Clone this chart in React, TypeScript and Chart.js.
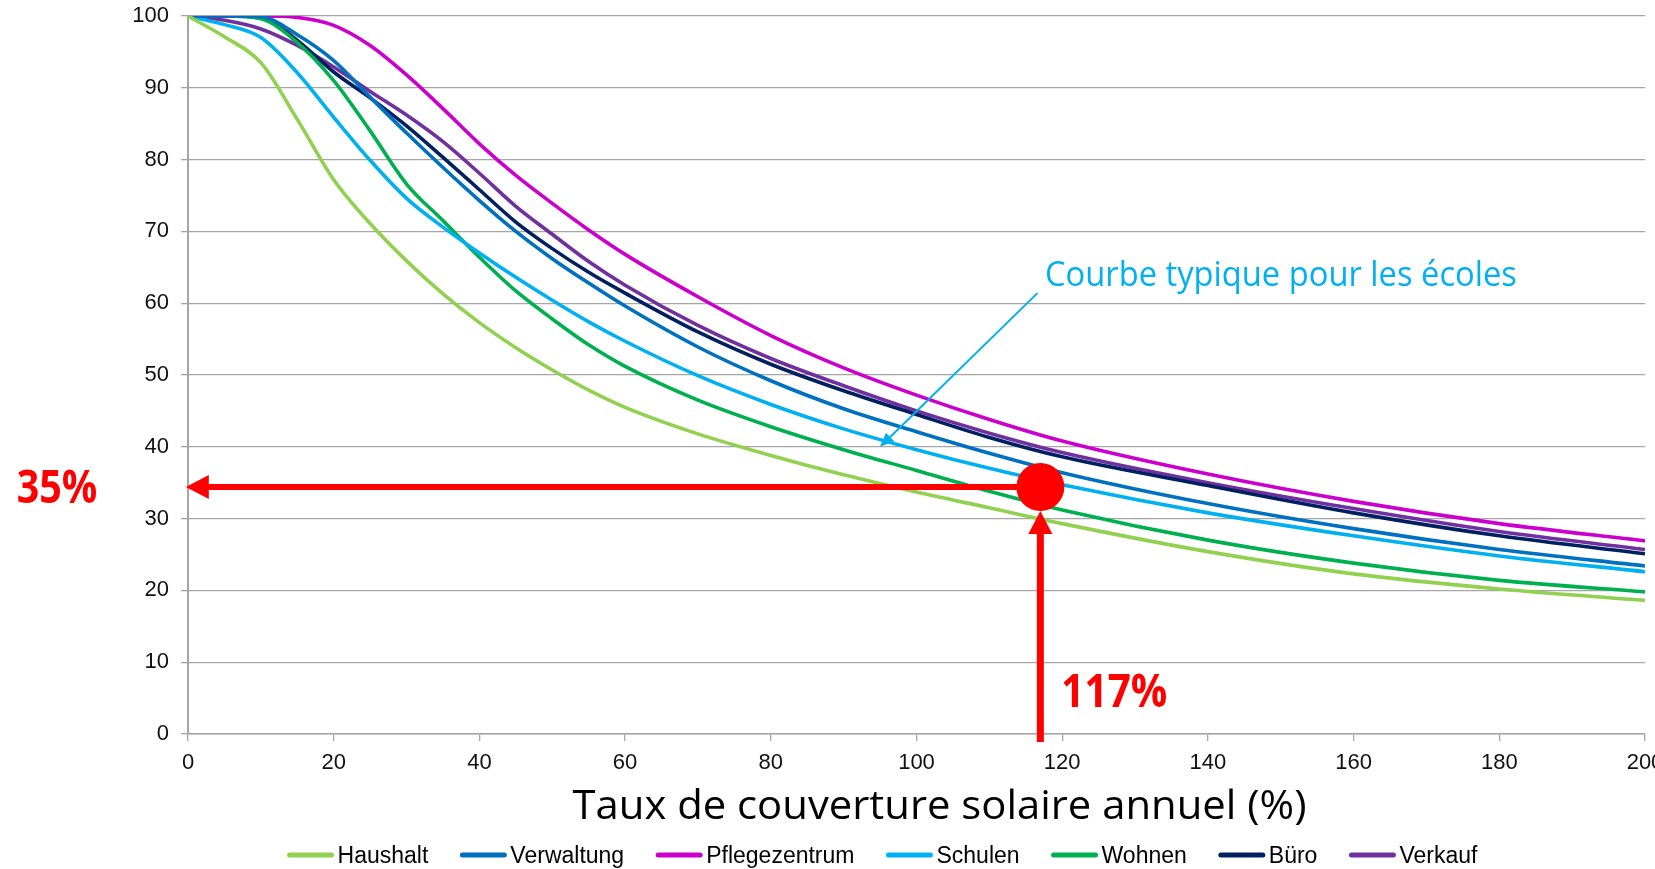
import { useEffect, useRef } from "react";
import { Chart, registerables } from "chart.js";

Chart.register(...registerables);

// ---- data ----
const coverage = [0, 5, 10, 15, 20, 25, 30, 35, 40, 45, 50, 55, 60, 70, 80, 90, 100, 110, 120, 140, 160, 180, 200];
const haushalt = [100, 97.1, 93.5, 85.6, 77.2, 71.1, 65.9, 61.3, 57.3, 53.8, 50.7, 47.9, 45.5, 41.8, 38.8, 36.1, 33.7, 31.5, 29.3, 25.4, 22.3, 20.2, 18.6];
const verwaltung = [100, 100, 99.9, 97.4, 93.8, 88.7, 83.7, 78.9, 74.3, 70.0, 66.2, 62.8, 59.6, 53.9, 49.2, 45.3, 42.1, 39.1, 36.4, 32.1, 28.6, 25.7, 23.4];
const pflegezentrum = [100, 100, 100, 99.8, 98.7, 95.9, 91.8, 87.1, 82.2, 77.8, 73.9, 70.2, 66.8, 60.9, 55.5, 51.0, 47.2, 43.8, 40.8, 36.2, 32.4, 29.3, 26.9];
const schulen = [100, 98.8, 97.0, 92.1, 85.9, 79.9, 74.6, 70.6, 67.0, 63.6, 60.4, 57.4, 54.7, 49.9, 45.9, 42.5, 39.6, 37.0, 34.7, 30.8, 27.6, 24.8, 22.6];
const wohnen = [100, 100, 99.6, 96.3, 91.0, 84.0, 76.6, 71.5, 66.4, 61.7, 57.8, 54.2, 51.2, 46.5, 42.8, 39.6, 36.7, 33.8, 31.2, 27.0, 23.8, 21.4, 19.8];
const buero = [100, 100, 99.9, 96.6, 92.2, 88.6, 84.7, 80.3, 75.8, 71.3, 67.6, 64.3, 61.4, 56.0, 51.5, 47.8, 44.5, 41.3, 38.6, 34.6, 30.8, 27.6, 25.1];
const verkauf = [100, 99.4, 98.2, 95.9, 92.9, 89.5, 86.2, 82.5, 78.1, 73.5, 69.6, 65.8, 62.5, 56.9, 52.3, 48.5, 45.0, 41.9, 39.2, 35.0, 31.4, 28.2, 25.7];

const seriesNames = ["Haushalt", "Verwaltung", "Pflegezentrum", "Schulen", "Wohnen", "Büro", "Verkauf"];
const seriesValues = [haushalt, verwaltung, pflegezentrum, schulen, wohnen, buero, verkauf];
const seriesColors = ["#92D050", "#0070C0", "#CC00CC", "#00B0F0", "#00B050", "#002060", "#7030A0"];

const xMin = 0;
const xMax = 200;
const xStep = 20;
const yMin = 0;
const yMax = 100;
const yStep = 10;
const xTitle = "Taux de couverture solaire annuel (%)";

// reading example
const markerX = 117;
const markerY = 34.4;
const markerLabelX = "117%";
const markerLabelY = "35%";
const arrowBottomY = -1.1;
const arrowLeftX = -0.3;

// callout
const calloutText = "Courbe typique pour les écoles";
const calloutFrom = [116.6, 61.4];
const calloutTo = [95.0, 40.0];

const W = 1655;
const H = 869;

function fitText(ctx: CanvasRenderingContext2D, text: string, x: number, y: number, font: string, targetW: number, align: "left" | "center") {
  ctx.save();
  ctx.font = font;
  const w = ctx.measureText(text).width;
  const s = targetW / w;
  ctx.textBaseline = "alphabetic";
  ctx.textAlign = "left";
  const left = align === "center" ? x - targetW / 2 : x;
  ctx.translate(left, y);
  ctx.scale(s, 1);
  ctx.fillText(text, 0, 0);
  ctx.restore();
}

const overlayPlugin = {
  id: "overlay",
  afterDatasetsDraw(chart: any) {
    const ctx: CanvasRenderingContext2D = chart.ctx;
    const xs = chart.scales.x;
    const ys = chart.scales.y;
    const red = "#FF0000";
    const cx = xs.getPixelForValue(markerX);
    const cy = ys.getPixelForValue(markerY);
    const r = 24;
    ctx.save();
    const tipX = xs.getPixelForValue(arrowLeftX);
    const headL = 23;
    const headHW = 12;
    ctx.strokeStyle = red;
    ctx.fillStyle = red;
    ctx.lineWidth = 6;
    ctx.beginPath();
    ctx.moveTo(cx, cy);
    ctx.lineTo(tipX + headL - 2, cy);
    ctx.stroke();
    ctx.beginPath();
    ctx.moveTo(tipX, cy);
    ctx.lineTo(tipX + headL, cy - headHW);
    ctx.lineTo(tipX + headL, cy + headHW);
    ctx.closePath();
    ctx.fill();
    const bottomY = ys.getPixelForValue(arrowBottomY);
    const tipY = cy + r;
    ctx.lineWidth = 7;
    ctx.beginPath();
    ctx.moveTo(cx, bottomY);
    ctx.lineTo(cx, tipY + headL - 2);
    ctx.stroke();
    ctx.beginPath();
    ctx.moveTo(cx, tipY);
    ctx.lineTo(cx - headHW, tipY + headL);
    ctx.lineTo(cx + headHW, tipY + headL);
    ctx.closePath();
    ctx.fill();
    ctx.beginPath();
    ctx.arc(cx, cy, r, 0, Math.PI * 2);
    ctx.fill();

    fitText(ctx, markerLabelY, 16.7, cy + 15.6, 'bold 46px "Open Sans", sans-serif', 80.6, "left");
    fitText(ctx, markerLabelX, cx + 21, ys.getPixelForValue(0) - 27, 'bold 46px "Open Sans", sans-serif', 106, "left");

    const blue = "#00B0F0";
    const fx = xs.getPixelForValue(calloutFrom[0]);
    const fy = ys.getPixelForValue(calloutFrom[1]);
    const tx = xs.getPixelForValue(calloutTo[0]);
    const ty = ys.getPixelForValue(calloutTo[1]);
    const ang = Math.atan2(ty - fy, tx - fx);
    const aL = 14;
    const aHW = 6;
    ctx.strokeStyle = blue;
    ctx.fillStyle = blue;
    ctx.lineWidth = 2;
    ctx.beginPath();
    ctx.moveTo(fx, fy);
    ctx.lineTo(tx - Math.cos(ang) * (aL - 2), ty - Math.sin(ang) * (aL - 2));
    ctx.stroke();
    ctx.beginPath();
    ctx.moveTo(tx, ty);
    ctx.lineTo(tx - Math.cos(ang) * aL - Math.sin(ang) * aHW, ty - Math.sin(ang) * aL + Math.cos(ang) * aHW);
    ctx.lineTo(tx - Math.cos(ang) * aL + Math.sin(ang) * aHW, ty - Math.sin(ang) * aL - Math.cos(ang) * aHW);
    ctx.closePath();
    ctx.fill();
    fitText(ctx, calloutText, fx + 7.5, fy - 6.7, '34px "Open Sans", sans-serif', 472, "left");
    ctx.restore();
  },
  afterDraw(chart: any) {
    const ctx: CanvasRenderingContext2D = chart.ctx;
    const area = chart.chartArea;
    ctx.save();
    ctx.fillStyle = "#000000";
    fitText(ctx, xTitle, (area.left + area.right) / 2 + 23, area.bottom + 85, '41px "Open Sans", sans-serif', 734, "center");
    const font = '23px "Liberation Sans", Arial, sans-serif';
    ctx.font = font;
    const sampleW = 46;
    const sampleGap = 4;
    const itemGap = 32;
    const widths = seriesNames.map((n) => sampleW + sampleGap + ctx.measureText(n).width);
    const total = widths.reduce((a, b) => a + b, 0) + itemGap * (seriesNames.length - 1);
    let x = 882.5 - total / 2;
    const ly = area.bottom + 121;
    ctx.textBaseline = "alphabetic";
    ctx.textAlign = "left";
    seriesNames.forEach((n, i) => {
      ctx.strokeStyle = seriesColors[i];
      ctx.lineWidth = 5;
      ctx.lineCap = "round";
      ctx.beginPath();
      ctx.moveTo(x + 2, ly);
      ctx.lineTo(x + sampleW - 2, ly);
      ctx.stroke();
      ctx.fillStyle = "#000000";
      ctx.fillText(n, x + sampleW + sampleGap, ly + 8);
      x += widths[i] + itemGap;
    });
    ctx.restore();
  },
};

export default function App() {
  const ref = useRef<HTMLCanvasElement | null>(null);
  useEffect(() => {
    if (!ref.current) return;
    const datasets = seriesNames.map((name, i) => ({
      label: name,
      data: coverage.map((x, j) => ({ x, y: seriesValues[i][j] })),
      borderColor: seriesColors[i],
      backgroundColor: seriesColors[i],
      borderWidth: 3.6,
      pointRadius: 0,
      fill: false,
      cubicInterpolationMode: "monotone" as const,
    }));
    const tickFont = { family: '"Liberation Sans", Arial, sans-serif', size: 22 };
    const chart = new Chart(ref.current, {
      type: "line",
      data: { datasets },
      options: {
        responsive: false,
        animation: false,
        devicePixelRatio: 1,
        layout: { padding: { left: 0, right: 10, top: 16, bottom: 0 } },
        plugins: {
          legend: { display: false },
          tooltip: { enabled: false },
          title: { display: false },
        },
        scales: {
          x: {
            type: "linear",
            min: xMin,
            max: xMax,
            ticks: { stepSize: xStep, color: "#111111", font: tickFont, padding: 9, maxRotation: 0 },
            grid: { drawOnChartArea: false, drawTicks: true, tickLength: 7, color: "#A6A6A6", lineWidth: 1.3 },
            border: { display: true, color: "#A6A6A6", width: 1.5 },
            afterFit: (s: any) => {
              s.height = 135;
              s.paddingRight = 0;
              s.paddingLeft = 0;
            },
          },
          y: {
            type: "linear",
            min: yMin,
            max: yMax,
            ticks: { stepSize: yStep, color: "#111111", font: tickFont, padding: 12 },
            grid: { drawOnChartArea: true, drawTicks: true, tickLength: 7, color: "#A6A6A6", lineWidth: 1.3 },
            border: { display: true, color: "#A6A6A6", width: 2 },
            afterFit: (s: any) => {
              s.width = 188;
              s.paddingTop = 0;
              s.paddingBottom = 0;
            },
          },
        },
      },
      plugins: [overlayPlugin],
    });
    return () => chart.destroy();
  }, []);
  return (
    <div style={{ position: "fixed", left: 0, top: 0, width: W, height: H, background: "#ffffff" }}>
      <canvas ref={ref} width={W} height={H} style={{ width: W, height: H, display: "block" }} />
    </div>
  );
}
